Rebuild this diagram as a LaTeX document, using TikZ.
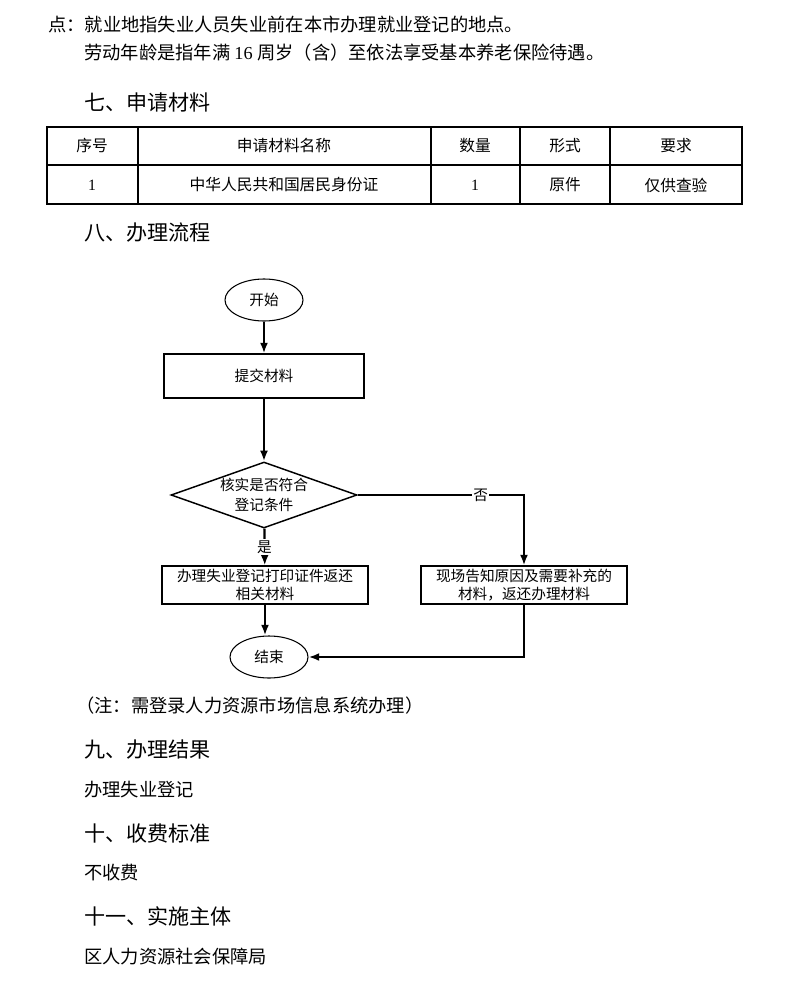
\documentclass[tikz,border=0pt]{standalone}
\usepackage{fontspec}
\setmainfont{Liberation Serif}
\newfontfamily\cjk{Noto Sans CJK SC}
\usetikzlibrary{shapes.geometric,arrows.meta}

\begin{document}
\begin{tikzpicture}[x=0.75pt,y=-0.75pt,
    body/.style={anchor=west,inner sep=0pt,font=\cjk\fontsize{13.7}{16}\selectfont},
    heading/.style={anchor=west,inner sep=0pt,font=\cjk\fontsize{15.8}{19}\selectfont},
    cell/.style={inner sep=0pt,font=\cjk\fontsize{11.8}{14}\selectfont},
    box/.style={draw,line width=0.8pt,inner sep=0pt,align=center,
      font=\cjk\fontsize{11}{13.5}\selectfont},
    term/.style={ellipse,draw,line width=0.8pt,inner sep=0pt,
      minimum width=58.5pt,minimum height=31.5pt,font=\cjk\fontsize{11}{13.5}\selectfont},
    flow/.style={line width=1.7pt,-{Latex[length=8pt,width=6pt]}},
    tag/.style={fill=white,inner sep=1pt,font=\cjk\fontsize{11}{13.5}\selectfont}]

  \useasboundingbox (0,0) rectangle (796,1006);

  % text carried over from the page before
  \node[body] (place) at (48,25) {点：就业地指失业人员失业前在本市办理就业登记的地点。};
  \node[body] (age) at (84,53) {劳动年龄是指年满 \rmfamily 16 \cjk 周岁（含）至依法享受基本养老保险待遇。};

  \node[heading] (h7) at (84,102) {七、申请材料};

  % table of materials
  \draw[line width=1.5pt] (47,127) rectangle (742,204);
  \draw[line width=1pt] (47,165) -- (742,165);
  \foreach \x in {138,431,520,610}
    \draw[line width=1pt] (\x,127) -- (\x,204);
  \foreach \x/\hd/\val [count=\i] in {92/序号/\rmfamily 1,
      284/申请材料名称/中华人民共和国居民身份证,
      475/数量/\rmfamily 1, 565/形式/原件, 676/要求/仅供查验}{
    \node[cell] (head\i) at (\x,146) {\hd};
    \node[cell] (val\i) at (\x,185) {\val};
  }

  \node[heading] (h8) at (84,233) {八、办理流程};

  % flow chart
  \node[term] (start) at (264,300) {开始};
  \node[box,minimum width=150pt,minimum height=33pt] (submit) at (264,376) {提交材料};
  \node[diamond,draw,line width=1.1pt,inner sep=0pt,aspect=2.8,
    minimum width=139.5pt,minimum height=49.5pt,align=center,
    font=\cjk\fontsize{11}{15}\selectfont] (check) at (264,495) {核实是否符合\\登记条件};
  \node[box,minimum width=154.5pt,minimum height=28.5pt] (yes) at (265,585)
    {办理失业登记打印证件返还\\相关材料};
  \node[box,minimum width=154.5pt,minimum height=28.5pt] (no) at (524,585)
    {现场告知原因及需要补充的\\材料，返还办理材料};
  \node[term] (end) at (269,657) {结束};

  \draw[flow] (start) -- (submit);
  \draw[flow] (submit) -- (check);
  \draw[flow] (check) -- node[tag] {是} (yes);
  \draw[flow] (check.east) -| node[tag,pos=0.37] {否} (no);
  \draw[flow] (yes.south) -- (yes.south |- end.north);
  \draw[flow] (no.south) |- (end.east);

  \node[body,anchor=west] (note) at (76,706) {（注：需登录人力资源市场信息系统办理）};

  \node[heading] (h9) at (84,750) {九、办理结果};
  \node[body] (result) at (84,790) {办理失业登记};
  \node[heading] (h10) at (84,833) {十、收费标准};
  \node[body] (fee) at (84,873) {不收费};
  \node[heading] (h11) at (84,916) {十一、实施主体};
  \node[body] (agency) at (84,957) {区人力资源社会保障局};
\end{tikzpicture}
\end{document}
